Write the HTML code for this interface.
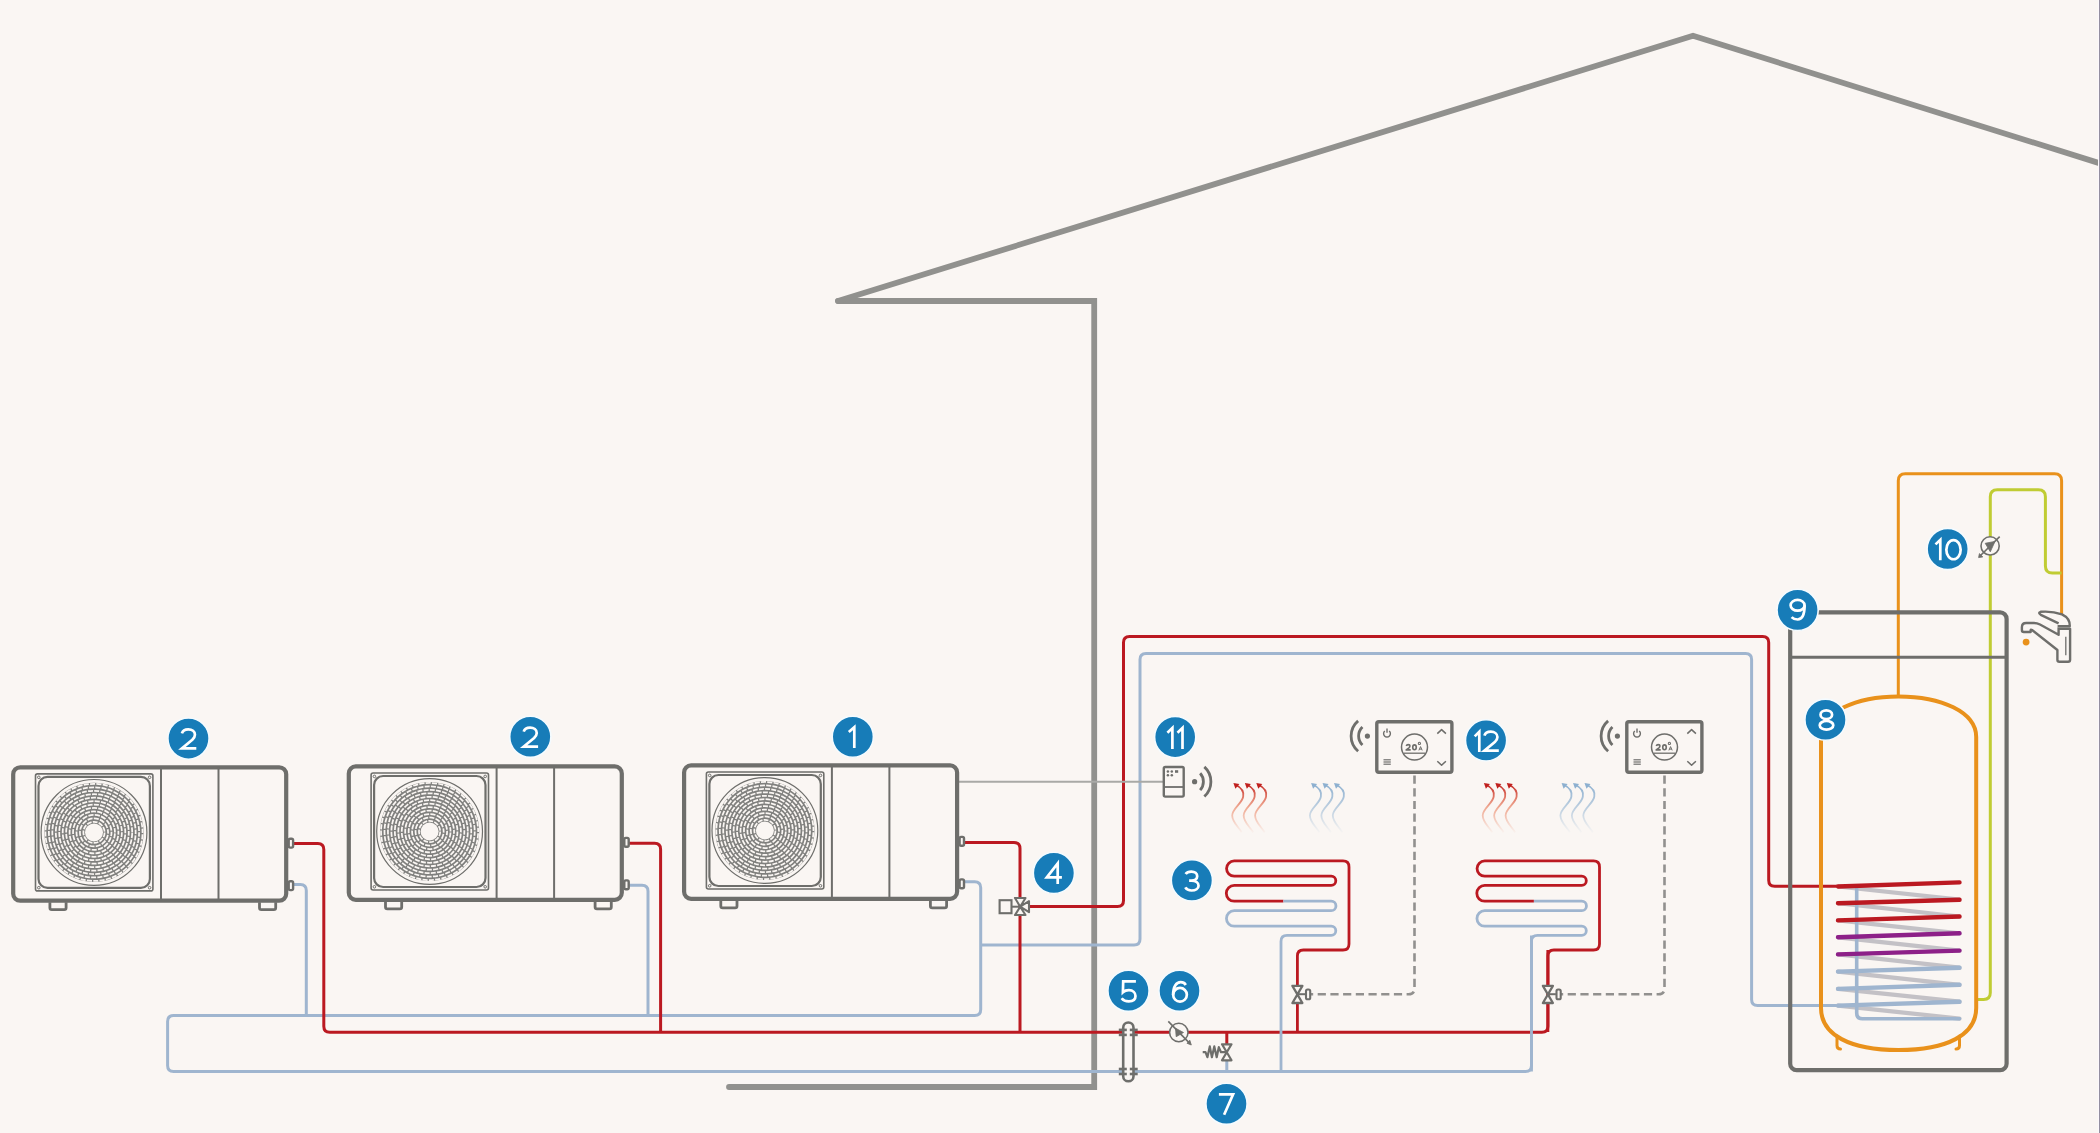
<!DOCTYPE html>
<html><head><meta charset="utf-8"><style>
html,body{margin:0;padding:0;background:#faf6f3;}
svg{display:block;font-family:"Liberation Sans",sans-serif;}
</style></head><body>
<svg width="2100" height="1133" viewBox="0 0 2100 1133">
<rect x="0" y="0" width="2100" height="1133" fill="#faf6f3"/>
<path d="M838 301 H1094.2 V1087 H729" fill="none" stroke="#91918e" stroke-width="5.8" stroke-linecap="round" stroke-linejoin="miter"/><path d="M838 301 L1693 35.8 L2110 166.5" fill="none" stroke="#91918e" stroke-width="5.8" stroke-linecap="round" stroke-linejoin="miter" stroke-miterlimit="10"/><defs><g id="hp"><rect x="0" y="0" width="273" height="133.4" rx="7" fill="none" stroke="#6e6e6b" stroke-width="4.2"/><line x1="147.8" y1="0" x2="147.8" y2="133" stroke="#6e6e6b" stroke-width="2"/><line x1="205.3" y1="0" x2="205.3" y2="133" stroke="#6e6e6b" stroke-width="2"/><rect x="22.3" y="6.6" width="117.4" height="117" rx="2" fill="none" stroke="#6e6e6b" stroke-width="1.6"/><rect x="25.3" y="9.6" width="111.4" height="111" rx="9" fill="none" stroke="#6e6e6b" stroke-width="2.2"/><circle cx="25.6" cy="10" r="1.3" fill="none" stroke="#6e6e6b" stroke-width="1"/><circle cx="136.4" cy="10" r="1.3" fill="none" stroke="#6e6e6b" stroke-width="1"/><circle cx="25.6" cy="120.4" r="1.3" fill="none" stroke="#6e6e6b" stroke-width="1"/><circle cx="136.4" cy="120.4" r="1.3" fill="none" stroke="#6e6e6b" stroke-width="1"/><circle cx="80.8" cy="65.1" r="52.9" fill="none" stroke="#6e6e6b" stroke-width="1.2"/><circle cx="80.8" cy="65.1" r="49.6" fill="#80807e"/><circle cx="80.8" cy="65.1" r="10.60" fill="none" stroke="#faf6f3" stroke-width="1.75" stroke-dasharray="4.80 1.25" stroke-dashoffset="0.00"/><circle cx="80.8" cy="65.1" r="14.05" fill="none" stroke="#faf6f3" stroke-width="1.75" stroke-dasharray="5.06 1.25" stroke-dashoffset="3.85"/><circle cx="80.8" cy="65.1" r="17.50" fill="none" stroke="#faf6f3" stroke-width="1.75" stroke-dasharray="5.22 1.25" stroke-dashoffset="1.40"/><circle cx="80.8" cy="65.1" r="20.95" fill="none" stroke="#faf6f3" stroke-width="1.75" stroke-dasharray="5.02 1.25" stroke-dashoffset="5.23"/><circle cx="80.8" cy="65.1" r="24.40" fill="none" stroke="#faf6f3" stroke-width="1.75" stroke-dasharray="5.14 1.25" stroke-dashoffset="2.80"/><circle cx="80.8" cy="65.1" r="27.85" fill="none" stroke="#faf6f3" stroke-width="1.75" stroke-dasharray="5.00 1.25" stroke-dashoffset="6.62"/><circle cx="80.8" cy="65.1" r="31.30" fill="none" stroke="#faf6f3" stroke-width="1.75" stroke-dasharray="5.09 1.25" stroke-dashoffset="4.20"/><circle cx="80.8" cy="65.1" r="34.75" fill="none" stroke="#faf6f3" stroke-width="1.75" stroke-dasharray="4.99 1.25" stroke-dashoffset="8.02"/><circle cx="80.8" cy="65.1" r="38.20" fill="none" stroke="#faf6f3" stroke-width="1.75" stroke-dasharray="5.07 1.25" stroke-dashoffset="5.60"/><circle cx="80.8" cy="65.1" r="41.65" fill="none" stroke="#faf6f3" stroke-width="1.75" stroke-dasharray="4.98 1.25" stroke-dashoffset="9.42"/><circle cx="80.8" cy="65.1" r="45.10" fill="none" stroke="#faf6f3" stroke-width="1.75" stroke-dasharray="5.05 1.25" stroke-dashoffset="7.00"/><circle cx="80.8" cy="65.1" r="48.55" fill="none" stroke="#faf6f3" stroke-width="1.75" stroke-dasharray="5.11 1.25" stroke-dashoffset="10.88"/><circle cx="80.8" cy="65.1" r="9" fill="#faf6f3" stroke="none"/><path d="M36.699999999999996 135 V140.5 Q36.699999999999996 142.4 38.6 142.4 H51.0 Q52.9 142.4 52.9 140.5 V135" fill="none" stroke="#6e6e6b" stroke-width="2.8"/><path d="M246.3 135 V140.5 Q246.3 142.4 248.2 142.4 H260.6 Q262.5 142.4 262.5 140.5 V135" fill="none" stroke="#6e6e6b" stroke-width="2.8"/><rect x="275.5" y="71.5" width="4.4" height="8.8" rx="1.5" fill="#faf6f3" stroke="#6e6e6b" stroke-width="2.4"/><rect x="275.5" y="114" width="4.4" height="8.8" rx="1.5" fill="#faf6f3" stroke="#6e6e6b" stroke-width="2.4"/></g></defs><path d="M1531.5 935.4 L1531.50 1065.40 Q1531.5 1071.4 1525.50 1071.40 L173.60 1071.40 Q167.6 1071.4 167.60 1065.40 L167.60 1021.50 Q167.6 1015.5 173.60 1015.50 L974.70 1015.50 Q980.7 1015.5 980.70 1009.50 L980.70 887.80 Q980.7 881.8 974.70 881.80 L964 881.8" fill="none" stroke="#9fb5cf" stroke-width="3" stroke-linejoin="round" /><path d="M293 884.5 L300.30 884.50 Q306.3 884.5 306.30 890.50 L306.3 1015.5" fill="none" stroke="#9fb5cf" stroke-width="3" stroke-linejoin="round" /><path d="M629 885.3 L642.00 885.30 Q648 885.3 648.00 891.30 L648 1015.5" fill="none" stroke="#9fb5cf" stroke-width="3" stroke-linejoin="round" /><path d="M980.7 945 L1134.00 945.00 Q1140 945 1140.00 939.00 L1140.00 659.50 Q1140 653.5 1146.00 653.50 L1745.60 653.50 Q1751.6 653.5 1751.60 659.50 L1751.60 999.60 Q1751.6 1005.6 1757.60 1005.60 L1837 1005.6" fill="none" stroke="#9fb5cf" stroke-width="3" stroke-linejoin="round" /><path d="M293 843.5 L317.80 843.50 Q323.8 843.5 323.80 849.50 L323.80 1026.30 Q323.8 1032.3 329.80 1032.30 L1541.90 1032.30 Q1547.9 1032.3 1547.90 1026.30 L1547.9 950" fill="none" stroke="#bb1921" stroke-width="3" stroke-linejoin="round" /><path d="M629 843.2 L654.60 843.20 Q660.6 843.2 660.60 849.20 L660.6 1032.3" fill="none" stroke="#bb1921" stroke-width="3" stroke-linejoin="round" /><path d="M964 842.5 L1014.00 842.50 Q1020 842.5 1020.00 848.50 L1020 1032.3" fill="none" stroke="#bb1921" stroke-width="3" stroke-linejoin="round" /><path d="M1020 906.6 L1117.50 906.60 Q1123.5 906.6 1123.50 900.60 L1123.50 642.50 Q1123.5 636.5 1129.50 636.50 L1762.70 636.50 Q1768.7 636.5 1768.70 642.50 L1768.70 880.20 Q1768.7 886.2 1774.70 886.20 L1837 886.2" fill="none" stroke="#bb1921" stroke-width="3" stroke-linejoin="round" /><path d="M1226.8 1032.3 V1044" fill="none" stroke="#bb1921" stroke-width="3" stroke-linejoin="round" /><path d="M1226.8 1060 V1071.4" fill="none" stroke="#9fb5cf" stroke-width="3" stroke-linejoin="round" /><path d="M1297.4 1032 L1297.40 956.00 Q1297.4 950 1303.40 950.00 L1343.00 950.00 Q1349 950 1349.00 944.00 L1349.00 866.90 Q1349 860.9 1343.00 860.90 L1234.2 860.9 A7.65 7.65 0 0 0 1234.2 876.2 H1331.2 A4.6 4.6 0 0 1 1331.2 885.4 H1234.2 A7.9 7.9 0 0 0 1234.2 901.2 H1283.4" fill="none" stroke="#bb1921" stroke-width="2.8" stroke-linejoin="round" /><path d="M1283.4 901.2 H1331.2 A4.75 4.75 0 0 1 1331.2 910.7 H1234.2 A7.75 7.75 0 0 0 1234.2 926.2 H1331.2 A4.6 4.6 0 0 1 1331.2 935.4 H1287 Q1281 935.4 1281 941.4 V1071.4" fill="none" stroke="#9fb5cf" stroke-width="2.8" stroke-linejoin="round" /><path d="M1547.9 1032 L1547.90 956.00 Q1547.9 950 1553.90 950.00 L1593.50 950.00 Q1599.5 950 1599.50 944.00 L1599.50 866.90 Q1599.5 860.9 1593.50 860.90 L1484.7 860.9 A7.65 7.65 0 0 0 1484.7 876.2 H1581.7 A4.6 4.6 0 0 1 1581.7 885.4 H1484.7 A7.9 7.9 0 0 0 1484.7 901.2 H1533.9" fill="none" stroke="#bb1921" stroke-width="2.8" stroke-linejoin="round" /><path d="M1533.9 901.2 H1581.7 A4.75 4.75 0 0 1 1581.7 910.7 H1484.7 A7.75 7.75 0 0 0 1484.7 926.2 H1581.7 A4.6 4.6 0 0 1 1581.7 935.4 H1537.5 Q1531.5 935.4 1531.5 941.4 V1071.4" fill="none" stroke="#9fb5cf" stroke-width="2.8" stroke-linejoin="round" /><line x1="959" y1="781.8" x2="1164" y2="781.8" stroke="#a9a9a6" stroke-width="2"/><path d="M1414.5 775.5 L1414.50 988.20 Q1414.5 994.2 1408.50 994.20 L1310 994.2" fill="none" stroke="#91908e" stroke-width="2.6" stroke-linejoin="round" stroke-dasharray="8.2 4.5"/><path d="M1664.5 775.5 L1664.50 988.20 Q1664.5 994.2 1658.50 994.20 L1560 994.2" fill="none" stroke="#91908e" stroke-width="2.6" stroke-linejoin="round" stroke-dasharray="8.2 4.5"/><path d="M1898.3 697 L1898.30 480.80 Q1898.3 473.8 1905.30 473.80 L2054.60 473.80 Q2061.6 473.8 2061.60 480.80 L2061.6 615" fill="none" stroke="#e9911b" stroke-width="3" stroke-linejoin="round" /><path d="M1977 999.5 L1983.65 999.50 Q1990.3 999.5 1990.30 992.85 L1990.30 496.80 Q1990.3 489.8 1997.30 489.80 L2038.40 489.80 Q2045.4 489.8 2045.40 496.80 L2045.40 566.00 Q2045.4 573 2052.40 573.00 L2061.6 573" fill="none" stroke="#c0cc33" stroke-width="3" stroke-linejoin="round" /><rect x="1790.2" y="612.4" width="216.4" height="457.8" rx="6.5" fill="none" stroke="#6e6e6b" stroke-width="4.2"/><line x1="1790" y1="657.2" x2="2006.6" y2="657.2" stroke="#6e6e6b" stroke-width="3"/><line x1="1838" y1="886.5" x2="1959.5" y2="899.7" stroke="#c3c1c6" stroke-width="4.2" stroke-linecap="round"/><line x1="1838" y1="903.2" x2="1959.5" y2="916.5" stroke="#c3c1c6" stroke-width="4.2" stroke-linecap="round"/><line x1="1838" y1="920.4" x2="1959.5" y2="933.3" stroke="#c3c1c6" stroke-width="4.2" stroke-linecap="round"/><line x1="1838" y1="937.3" x2="1959.5" y2="950.6" stroke="#c3c1c6" stroke-width="4.2" stroke-linecap="round"/><line x1="1838" y1="954.4" x2="1959.5" y2="967.7" stroke="#c3c1c6" stroke-width="4.2" stroke-linecap="round"/><line x1="1838" y1="971.6" x2="1959.5" y2="984.8" stroke="#c3c1c6" stroke-width="4.2" stroke-linecap="round"/><line x1="1838" y1="988.9" x2="1959.5" y2="1001.7" stroke="#c3c1c6" stroke-width="4.2" stroke-linecap="round"/><line x1="1838" y1="1005.6" x2="1959.5" y2="1018.6" stroke="#c3c1c6" stroke-width="4.2" stroke-linecap="round"/><path d="M1856.7 889 V1013 Q1856.7 1018.8 1862.5 1018.8 H1959.5" fill="none" stroke="#9fb5cf" stroke-width="3.6" stroke-linejoin="round" stroke-linecap="round"/><line x1="1838" y1="886.5" x2="1959.5" y2="882.4" stroke="#bb1921" stroke-width="4.4" stroke-linecap="round"/><line x1="1838" y1="903.2" x2="1959.5" y2="899.7" stroke="#bb1921" stroke-width="4.4" stroke-linecap="round"/><line x1="1838" y1="920.4" x2="1959.5" y2="916.5" stroke="#bb1921" stroke-width="4.4" stroke-linecap="round"/><line x1="1838" y1="937.3" x2="1959.5" y2="933.3" stroke="#8d2088" stroke-width="4.4" stroke-linecap="round"/><line x1="1838" y1="954.4" x2="1959.5" y2="950.6" stroke="#8d2088" stroke-width="4.4" stroke-linecap="round"/><line x1="1838" y1="971.6" x2="1959.5" y2="967.7" stroke="#9fb5cf" stroke-width="4.4" stroke-linecap="round"/><line x1="1838" y1="988.9" x2="1959.5" y2="984.8" stroke="#9fb5cf" stroke-width="4.4" stroke-linecap="round"/><line x1="1838" y1="1005.6" x2="1959.5" y2="1001.7" stroke="#9fb5cf" stroke-width="4.4" stroke-linecap="round"/><path d="M1821 1008 V737 C1821 712 1856 696.4 1898.5 696.4 C1941 696.4 1976.2 712 1976.2 737 V1008 C1976.2 1035 1947 1050 1898.5 1050 C1850 1050 1821 1035 1821 1008 Z" fill="none" stroke="#e9911b" stroke-width="4" stroke-linejoin="round" /><path d="M1837 1036 V1045.5 Q1837 1049 1840.5 1049" fill="none" stroke="#e9911b" stroke-width="3" stroke-linejoin="round" stroke-linecap="round"/><path d="M1959.5 1036 V1045.5 Q1959.5 1049 1956 1049" fill="none" stroke="#e9911b" stroke-width="3" stroke-linejoin="round" stroke-linecap="round"/><path d="M2057.4 628.8 H2070.1 V659.7 Q2070.1 661.7 2068.1 661.7 H2059.4 Q2057.4 661.7 2057.4 659.7 V650 L2032 630 Q2030.6 629 2030.6 630.5 V632 H2023.8 Q2021.9 632 2021.9 630 V627.2 Q2021.9 623 2026.2 623 H2034 Q2037 623 2040 624.5 L2058.6 634.8 V628.8" fill="none" stroke="#6e6e6b" stroke-width="2.4" stroke-linejoin="round" /><path d="M2058.6 623.4 L2040.8 614.8 Q2037.6 612.6 2040.6 611.8 Q2052 610.8 2062 614.4 Q2070.2 618.4 2069.8 626.2 H2057.6" fill="none" stroke="#6e6e6b" stroke-width="2.4" stroke-linejoin="round" /><line x1="2065.8" y1="636.8" x2="2065.8" y2="655.3" stroke="#6e6e6b" stroke-width="1.3"/><circle cx="2026.1" cy="642.1" r="3.4" fill="#e9911b"/><circle cx="1990.1" cy="545.9" r="9.1" fill="#faf6f3" stroke="#6e6e6b" stroke-width="1.6"/><line x1="1980" y1="556" x2="1999.7" y2="536.6" stroke="#6e6e6b" stroke-width="1.6"/><path d="M1995 541.4 L1985.2 543.3 L1990.3 551.8 Z" fill="#6e6e6b" stroke="#6e6e6b" stroke-width="0.8" stroke-linejoin="round"/><path d="M1978.6 557.6 L1979.4 553.6 L1982.8 556.9 Z" fill="#6e6e6b" stroke="#6e6e6b" stroke-width="0.8"/><circle cx="1178.8" cy="1032.5" r="9.2" fill="#faf6f3" stroke="#6e6e6b" stroke-width="1.6"/><line x1="1168.3" y1="1021.4" x2="1190" y2="1043.6" stroke="#6e6e6b" stroke-width="1.6"/><path d="M1175.5 1028.2 L1183.5 1032.5 L1176.2 1036.7 Z" fill="#6e6e6b" stroke="#6e6e6b" stroke-width="0.8" stroke-linejoin="round"/><path d="M1191.3 1045 L1187 1043.3 L1189.8 1040.2 Z" fill="#6e6e6b" stroke="#6e6e6b" stroke-width="0.8"/><rect x="1123.2" y="1022.5" width="10.3" height="58.8" rx="5.15" fill="#faf6f3" stroke="#6e6e6b" stroke-width="2.6"/><line x1="1118.8" y1="1029.9" x2="1126.8" y2="1029.9" stroke="#6e6e6b" stroke-width="2.6"/><line x1="1129.8" y1="1029.9" x2="1137.7" y2="1029.9" stroke="#6e6e6b" stroke-width="2.6"/><line x1="1118.8" y1="1034.9" x2="1126.8" y2="1034.9" stroke="#6e6e6b" stroke-width="2.6"/><line x1="1129.8" y1="1034.9" x2="1137.7" y2="1034.9" stroke="#6e6e6b" stroke-width="2.6"/><line x1="1118.8" y1="1069.0" x2="1126.8" y2="1069.0" stroke="#6e6e6b" stroke-width="2.6"/><line x1="1129.8" y1="1069.0" x2="1137.7" y2="1069.0" stroke="#6e6e6b" stroke-width="2.6"/><line x1="1118.8" y1="1074.0" x2="1126.8" y2="1074.0" stroke="#6e6e6b" stroke-width="2.6"/><line x1="1129.8" y1="1074.0" x2="1137.7" y2="1074.0" stroke="#6e6e6b" stroke-width="2.6"/><path d="M1222 1044.3 H1231.5 L1222 1060.3 H1231.5 Z" fill="#faf6f3" stroke="#6e6e6b" stroke-width="2.2" stroke-linejoin="round"/><path d="M1202.7 1052.2 H1205.5 L1207.4 1057.2 L1209.8 1046.4 L1211.9 1057.2 L1214.3 1046.4 L1216.7 1057.2 L1218.8 1047.2 L1221 1052.2 H1227" fill="none" stroke="#6e6e6b" stroke-width="2.2" stroke-linejoin="round" /><rect x="999.6" y="900.2" width="11.9" height="13" fill="#faf6f3" stroke="#6e6e6b" stroke-width="2.1"/><line x1="1011.5" y1="906.7" x2="1020" y2="906.7" stroke="#6e6e6b" stroke-width="2"/><path d="M1015 898 H1025.5 L1020.2 906.7 Z M1015 915 H1025.5 L1020.2 906.7 Z M1029 901.2 V912.2 L1020.2 906.7 Z" fill="#faf6f3" stroke="#6e6e6b" stroke-width="2.1" stroke-linejoin="round"/><path d="M1292.4 985.8 H1302.4 L1292.4 1003 H1302.4 Z" fill="#faf6f3" stroke="#6e6e6b" stroke-width="2.3" stroke-linejoin="round"/><line x1="1297.4" y1="994.2" x2="1305.4" y2="994.2" stroke="#6e6e6b" stroke-width="2"/><rect x="1306.0" y="989.5" width="4.2" height="9.8" rx="1.6" fill="#faf6f3" stroke="#6e6e6b" stroke-width="2.1"/><path d="M1542.9 985.8 H1552.9 L1542.9 1003 H1552.9 Z" fill="#faf6f3" stroke="#6e6e6b" stroke-width="2.3" stroke-linejoin="round"/><line x1="1547.9" y1="994.2" x2="1555.9" y2="994.2" stroke="#6e6e6b" stroke-width="2"/><rect x="1556.5" y="989.5" width="4.2" height="9.8" rx="1.6" fill="#faf6f3" stroke="#6e6e6b" stroke-width="2.1"/><rect x="1163.8" y="767" width="19.9" height="29.6" rx="1.5" fill="#faf6f3" stroke="#6e6e6b" stroke-width="2.4"/><line x1="1164" y1="787" x2="1183.5" y2="787" stroke="#6e6e6b" stroke-width="1.8"/><circle cx="1167.9" cy="771.5" r="1.25" fill="#6e6e6b"/><circle cx="1171.8" cy="771.5" r="1.25" fill="#6e6e6b"/><circle cx="1167.9" cy="775.3" r="1.25" fill="#6e6e6b"/><circle cx="1171.8" cy="775.3" r="1.25" fill="#6e6e6b"/><rect x="1175" y="770.2" width="3.2" height="2.6" fill="#6e6e6b"/><circle cx="1194.6" cy="781.7" r="2.6" fill="#6e6e6b"/><path d="M1200.16 773.30 A12.5 12.5 0 0 1 1200.16 790.10" fill="none" stroke="#6e6e6b" stroke-width="2.8"/><path d="M1204.35 766.90 A20.0 20.0 0 0 1 1204.35 796.50" fill="none" stroke="#6e6e6b" stroke-width="2.8"/><rect x="1376.8" y="721.8" width="75.1" height="50.4" rx="2" fill="#faf6f3" stroke="#6e6e6b" stroke-width="3.4"/><path d="M1384.8 731.0 A3.4 3.4 0 1 0 1389.2 731.0" fill="none" stroke="#6e6e6b" stroke-width="1.4"/><line x1="1387" y1="728.4" x2="1387" y2="732.8000000000001" stroke="#6e6e6b" stroke-width="1.4"/><line x1="1383.5" y1="759.8" x2="1390.8" y2="759.8" stroke="#6e6e6b" stroke-width="1.2"/><line x1="1383.5" y1="762.0" x2="1390.8" y2="762.0" stroke="#6e6e6b" stroke-width="1.2"/><line x1="1383.5" y1="764.1999999999999" x2="1390.8" y2="764.1999999999999" stroke="#6e6e6b" stroke-width="1.2"/><path d="M1437.3 733.6 L1441.6 729.6 L1445.9 733.6" fill="none" stroke="#6e6e6b" stroke-width="1.5" stroke-linejoin="round" /><path d="M1437.3 761.2 L1441.6 765.2 L1445.9 761.2" fill="none" stroke="#6e6e6b" stroke-width="1.5" stroke-linejoin="round" /><circle cx="1414.5" cy="747.1" r="13" fill="none" stroke="#6e6e6b" stroke-width="1.5"/><line x1="1403.6" y1="753.2" x2="1425.2" y2="753.2" stroke="#6e6e6b" stroke-width="1.3"/><path d="M1406.3 745.9 C1406.6 744.9 1407.3 744.6 1408.1 744.6 C1409.3 744.6 1409.9 745.3 1409.9 746.1 C1409.9 746.8 1409.5 747.3 1409 747.8 L1406.2 749.9 H1410.7" fill="none" stroke="#6e6e6b" stroke-width="1.6" stroke-linejoin="round"/><ellipse cx="1414.5" cy="747.35" rx="1.75" ry="2.45" fill="none" stroke="#6e6e6b" stroke-width="1.6"/><circle cx="1419.4" cy="743.4" r="1.1" fill="none" stroke="#6e6e6b" stroke-width="1.1"/><path d="M1418.9 750.4 L1420.55 746.6 L1422.2 750.4 M1419.5 749.1 H1421.6" fill="none" stroke="#6e6e6b" stroke-width="1.0"/><circle cx="1367.4" cy="736.1" r="2.6" fill="#6e6e6b"/><path d="M1362.43 727.10 A12.5 12.5 0 0 0 1362.43 745.10" fill="none" stroke="#6e6e6b" stroke-width="2.8"/><path d="M1358.10 720.90 A20.0 20.0 0 0 0 1358.10 751.30" fill="none" stroke="#6e6e6b" stroke-width="2.8"/><rect x="1626.8" y="721.8" width="75.1" height="50.4" rx="2" fill="#faf6f3" stroke="#6e6e6b" stroke-width="3.4"/><path d="M1634.8 731.0 A3.4 3.4 0 1 0 1639.2 731.0" fill="none" stroke="#6e6e6b" stroke-width="1.4"/><line x1="1637" y1="728.4" x2="1637" y2="732.8000000000001" stroke="#6e6e6b" stroke-width="1.4"/><line x1="1633.5" y1="759.8" x2="1640.8" y2="759.8" stroke="#6e6e6b" stroke-width="1.2"/><line x1="1633.5" y1="762.0" x2="1640.8" y2="762.0" stroke="#6e6e6b" stroke-width="1.2"/><line x1="1633.5" y1="764.1999999999999" x2="1640.8" y2="764.1999999999999" stroke="#6e6e6b" stroke-width="1.2"/><path d="M1687.3 733.6 L1691.6 729.6 L1695.9 733.6" fill="none" stroke="#6e6e6b" stroke-width="1.5" stroke-linejoin="round" /><path d="M1687.3 761.2 L1691.6 765.2 L1695.9 761.2" fill="none" stroke="#6e6e6b" stroke-width="1.5" stroke-linejoin="round" /><circle cx="1664.5" cy="747.1" r="13" fill="none" stroke="#6e6e6b" stroke-width="1.5"/><line x1="1653.6" y1="753.2" x2="1675.2" y2="753.2" stroke="#6e6e6b" stroke-width="1.3"/><path d="M1656.3 745.9 C1656.6 744.9 1657.3 744.6 1658.1 744.6 C1659.3 744.6 1659.9 745.3 1659.9 746.1 C1659.9 746.8 1659.5 747.3 1659 747.8 L1656.2 749.9 H1660.7" fill="none" stroke="#6e6e6b" stroke-width="1.6" stroke-linejoin="round"/><ellipse cx="1664.5" cy="747.35" rx="1.75" ry="2.45" fill="none" stroke="#6e6e6b" stroke-width="1.6"/><circle cx="1669.4" cy="743.4" r="1.1" fill="none" stroke="#6e6e6b" stroke-width="1.1"/><path d="M1668.9 750.4 L1670.55 746.6 L1672.2 750.4 M1669.5 749.1 H1671.6" fill="none" stroke="#6e6e6b" stroke-width="1.0"/><circle cx="1617.4" cy="736.1" r="2.6" fill="#6e6e6b"/><path d="M1612.43 727.10 A12.5 12.5 0 0 0 1612.43 745.10" fill="none" stroke="#6e6e6b" stroke-width="2.8"/><path d="M1608.10 720.90 A20.0 20.0 0 0 0 1608.10 751.30" fill="none" stroke="#6e6e6b" stroke-width="2.8"/><linearGradient id="wr1" gradientUnits="userSpaceOnUse" x1="0" y1="783" x2="0" y2="834"><stop offset="0" stop-color="#c0201e" stop-opacity="1"/><stop offset="0.5" stop-color="#e8704a" stop-opacity="0.55"/><stop offset="1" stop-color="#e8704a" stop-opacity="0"/></linearGradient><path d="M1235.2 784.5 C1241.2 787.5 1244.2 791.5 1243.2 796.5 C1242.2 803.5 1232.2 808.5 1232.2 815.5 C1232.2 822.5 1239.2 827.5 1241.7 832.5" fill="none" stroke="url(#wr1)" stroke-width="1.8"/><path d="M1233.4 782.9 L1239.4 783.9 L1235.4 788.7 Z" fill="#c0201e"/><path d="M1246.65 784.5 C1252.65 787.5 1255.65 791.5 1254.65 796.5 C1253.65 803.5 1243.65 808.5 1243.65 815.5 C1243.65 822.5 1250.65 827.5 1253.15 832.5" fill="none" stroke="url(#wr1)" stroke-width="1.8"/><path d="M1244.8500000000001 782.9 L1250.8500000000001 783.9 L1246.8500000000001 788.7 Z" fill="#c0201e"/><path d="M1258.1000000000001 784.5 C1264.1000000000001 787.5 1267.1000000000001 791.5 1266.1000000000001 796.5 C1265.1000000000001 803.5 1255.1000000000001 808.5 1255.1000000000001 815.5 C1255.1000000000001 822.5 1262.1000000000001 827.5 1264.6000000000001 832.5" fill="none" stroke="url(#wr1)" stroke-width="1.8"/><path d="M1256.3000000000002 782.9 L1262.3000000000002 783.9 L1258.3000000000002 788.7 Z" fill="#c0201e"/><linearGradient id="wb1" gradientUnits="userSpaceOnUse" x1="0" y1="783" x2="0" y2="834"><stop offset="0" stop-color="#8db0d0" stop-opacity="1"/><stop offset="0.5" stop-color="#8db0d0" stop-opacity="0.55"/><stop offset="1" stop-color="#8db0d0" stop-opacity="0"/></linearGradient><path d="M1312.9 784.5 C1318.9 787.5 1321.9 791.5 1320.9 796.5 C1319.9 803.5 1309.9 808.5 1309.9 815.5 C1309.9 822.5 1316.9 827.5 1319.4 832.5" fill="none" stroke="url(#wb1)" stroke-width="1.8"/><path d="M1311.1000000000001 782.9 L1317.1000000000001 783.9 L1313.1000000000001 788.7 Z" fill="#8db0d0"/><path d="M1324.3500000000001 784.5 C1330.3500000000001 787.5 1333.3500000000001 791.5 1332.3500000000001 796.5 C1331.3500000000001 803.5 1321.3500000000001 808.5 1321.3500000000001 815.5 C1321.3500000000001 822.5 1328.3500000000001 827.5 1330.8500000000001 832.5" fill="none" stroke="url(#wb1)" stroke-width="1.8"/><path d="M1322.5500000000002 782.9 L1328.5500000000002 783.9 L1324.5500000000002 788.7 Z" fill="#8db0d0"/><path d="M1335.8000000000002 784.5 C1341.8000000000002 787.5 1344.8000000000002 791.5 1343.8000000000002 796.5 C1342.8000000000002 803.5 1332.8000000000002 808.5 1332.8000000000002 815.5 C1332.8000000000002 822.5 1339.8000000000002 827.5 1342.3000000000002 832.5" fill="none" stroke="url(#wb1)" stroke-width="1.8"/><path d="M1334.0000000000002 782.9 L1340.0000000000002 783.9 L1336.0000000000002 788.7 Z" fill="#8db0d0"/><linearGradient id="wr2" gradientUnits="userSpaceOnUse" x1="0" y1="783" x2="0" y2="834"><stop offset="0" stop-color="#c0201e" stop-opacity="1"/><stop offset="0.5" stop-color="#e8704a" stop-opacity="0.55"/><stop offset="1" stop-color="#e8704a" stop-opacity="0"/></linearGradient><path d="M1485.7 784.5 C1491.7 787.5 1494.7 791.5 1493.7 796.5 C1492.7 803.5 1482.7 808.5 1482.7 815.5 C1482.7 822.5 1489.7 827.5 1492.2 832.5" fill="none" stroke="url(#wr2)" stroke-width="1.8"/><path d="M1483.9 782.9 L1489.9 783.9 L1485.9 788.7 Z" fill="#c0201e"/><path d="M1497.15 784.5 C1503.15 787.5 1506.15 791.5 1505.15 796.5 C1504.15 803.5 1494.15 808.5 1494.15 815.5 C1494.15 822.5 1501.15 827.5 1503.65 832.5" fill="none" stroke="url(#wr2)" stroke-width="1.8"/><path d="M1495.3500000000001 782.9 L1501.3500000000001 783.9 L1497.3500000000001 788.7 Z" fill="#c0201e"/><path d="M1508.6000000000001 784.5 C1514.6000000000001 787.5 1517.6000000000001 791.5 1516.6000000000001 796.5 C1515.6000000000001 803.5 1505.6000000000001 808.5 1505.6000000000001 815.5 C1505.6000000000001 822.5 1512.6000000000001 827.5 1515.1000000000001 832.5" fill="none" stroke="url(#wr2)" stroke-width="1.8"/><path d="M1506.8000000000002 782.9 L1512.8000000000002 783.9 L1508.8000000000002 788.7 Z" fill="#c0201e"/><linearGradient id="wb2" gradientUnits="userSpaceOnUse" x1="0" y1="783" x2="0" y2="834"><stop offset="0" stop-color="#8db0d0" stop-opacity="1"/><stop offset="0.5" stop-color="#8db0d0" stop-opacity="0.55"/><stop offset="1" stop-color="#8db0d0" stop-opacity="0"/></linearGradient><path d="M1563.4 784.5 C1569.4 787.5 1572.4 791.5 1571.4 796.5 C1570.4 803.5 1560.4 808.5 1560.4 815.5 C1560.4 822.5 1567.4 827.5 1569.9 832.5" fill="none" stroke="url(#wb2)" stroke-width="1.8"/><path d="M1561.6000000000001 782.9 L1567.6000000000001 783.9 L1563.6000000000001 788.7 Z" fill="#8db0d0"/><path d="M1574.8500000000001 784.5 C1580.8500000000001 787.5 1583.8500000000001 791.5 1582.8500000000001 796.5 C1581.8500000000001 803.5 1571.8500000000001 808.5 1571.8500000000001 815.5 C1571.8500000000001 822.5 1578.8500000000001 827.5 1581.3500000000001 832.5" fill="none" stroke="url(#wb2)" stroke-width="1.8"/><path d="M1573.0500000000002 782.9 L1579.0500000000002 783.9 L1575.0500000000002 788.7 Z" fill="#8db0d0"/><path d="M1586.3000000000002 784.5 C1592.3000000000002 787.5 1595.3000000000002 791.5 1594.3000000000002 796.5 C1593.3000000000002 803.5 1583.3000000000002 808.5 1583.3000000000002 815.5 C1583.3000000000002 822.5 1590.3000000000002 827.5 1592.8000000000002 832.5" fill="none" stroke="url(#wb2)" stroke-width="1.8"/><path d="M1584.5000000000002 782.9 L1590.5000000000002 783.9 L1586.5000000000002 788.7 Z" fill="#8db0d0"/><use href="#hp" x="13.2" y="767.3"/><use href="#hp" x="348.8" y="766.4"/><use href="#hp" x="684.1" y="765.4"/><circle cx="852.8" cy="736.7" r="20.6" fill="#177cb8" stroke="#f4fbff" stroke-width="1.6"/><g transform="translate(852.8 736.7)" fill="none" stroke="#ffffff" stroke-width="2.7" stroke-miterlimit="6"><path d="M-4.0 -4.6 L1.5 -9.4 V11.2"/></g><circle cx="188.5" cy="738.6" r="20.6" fill="#177cb8" stroke="#f4fbff" stroke-width="1.6"/><g transform="translate(188.5 738.6)" fill="none" stroke="#ffffff" stroke-width="2.7" stroke-miterlimit="6"><path d="M-6.6 -5.2 C-5.8 -7.9 -3.4 -9.25 -0.2 -9.25 C3.6 -9.25 6.45 -6.9 6.45 -3.9 C6.45 -1.9 5.4 -0.4 3.8 1.2 L-6.6 9.75 H7.8"/></g><circle cx="530.3" cy="736.8" r="20.6" fill="#177cb8" stroke="#f4fbff" stroke-width="1.6"/><g transform="translate(530.3 736.8)" fill="none" stroke="#ffffff" stroke-width="2.7" stroke-miterlimit="6"><path d="M-6.6 -5.2 C-5.8 -7.9 -3.4 -9.25 -0.2 -9.25 C3.6 -9.25 6.45 -6.9 6.45 -3.9 C6.45 -1.9 5.4 -0.4 3.8 1.2 L-6.6 9.75 H7.8"/></g><circle cx="1191.9" cy="880.4" r="20.6" fill="#177cb8" stroke="#f4fbff" stroke-width="1.6"/><g transform="translate(1191.9 880.4)" fill="none" stroke="#ffffff" stroke-width="2.7" stroke-miterlimit="6"><path d="M-6.3 -6.4 C-5.3 -7.9 -3.2 -8.8 -0.6 -8.8 C3 -8.8 5.3 -6.9 5.3 -4.2 C5.3 -1.6 3 0.2 -0.4 0.2 H-2.8 M-0.4 0.2 C3.8 0.2 6.65 2.5 6.65 5.3 C6.65 8.2 3.8 10.1 -0.3 10.1 C-3.2 10.1 -5.5 8.9 -6.6 7.0"/></g><circle cx="1053.9" cy="872.9" r="20.6" fill="#177cb8" stroke="#f4fbff" stroke-width="1.6"/><g transform="translate(1053.9 872.9)" fill="none" stroke="#ffffff" stroke-width="2.7" stroke-miterlimit="6"><path d="M3.8 11 V-9.4 L-7.1 4.4 H8"/></g><circle cx="1128.5" cy="990.8" r="20.6" fill="#177cb8" stroke="#f4fbff" stroke-width="1.6"/><g transform="translate(1128.5 990.8)" fill="none" stroke="#ffffff" stroke-width="2.7" stroke-miterlimit="6"><path d="M7.4 -9.4 H-5.3 L-5.6 1.4 C-4.1 0 -2.2 -0.7 0.4 -0.7 C4.5 -0.7 7 2.0 7 5.3 C7 8.7 4.3 10.6 0.3 10.6 C-2.9 10.6 -5.4 9.4 -6.9 7.4"/></g><circle cx="1179.5" cy="990.8" r="20.6" fill="#177cb8" stroke="#f4fbff" stroke-width="1.6"/><g transform="translate(1179.5 990.8)" fill="none" stroke="#ffffff" stroke-width="2.7" stroke-miterlimit="6"><path d="M6.3 -5.9 C5.2 -7.6 3.4 -8.6 1.2 -8.6 C-3 -8.6 -6.35 -4.5 -6.35 4"/><circle cx="0.5" cy="4.0" r="6.85"/></g><circle cx="1226.5" cy="1103.8" r="20.6" fill="#177cb8" stroke="#f4fbff" stroke-width="1.6"/><g transform="translate(1226.5 1103.8)" fill="none" stroke="#ffffff" stroke-width="2.7" stroke-miterlimit="6"><path d="M-7.6 -9.4 H6.6 L-2.4 10.9"/></g><circle cx="1825.5" cy="719.7" r="20.6" fill="#177cb8" stroke="#f4fbff" stroke-width="1.6"/><g transform="translate(1825.5 719.7)" fill="none" stroke="#ffffff" stroke-width="2.7" stroke-miterlimit="6"><ellipse cx="0.8" cy="-5.0" rx="5.8" ry="4.3"/><ellipse cx="1.0" cy="5.6" rx="6.8" ry="4.3"/></g><circle cx="1797.6" cy="609.9" r="20.6" fill="#177cb8" stroke="#f4fbff" stroke-width="1.6"/><g transform="translate(1797.6 609.9)" fill="none" stroke="#ffffff" stroke-width="2.7" stroke-miterlimit="6"><path d="M7.0 -4.6 C7.0 4.2 4.4 9.6 0 9.6 C-2.5 9.6 -4.6 8.7 -6 7.2"/><ellipse cx="0.0" cy="-4.6" rx="7.0" ry="5.4"/></g><circle cx="1947.7" cy="549" r="20.6" fill="#177cb8" stroke="#f4fbff" stroke-width="1.6"/><g transform="translate(1947.7 549)" fill="none" stroke="#ffffff" stroke-width="2.7" stroke-miterlimit="6"><path d="M-12.2 -4.6 L-7.4 -9.2 V11.3"/><ellipse cx="5.8" cy="0.65" rx="7.15" ry="9.6"/></g><circle cx="1175.2" cy="737.1" r="20.6" fill="#177cb8" stroke="#f4fbff" stroke-width="1.6"/><g transform="translate(1175.2 737.1)" fill="none" stroke="#ffffff" stroke-width="2.7" stroke-miterlimit="6"><path d="M-7.8 -4.4 L-2.8 -9.2 V11.9 M2.3 -4.4 L7.3 -9.2 V11.9"/></g><circle cx="1486.1" cy="740.4" r="20.6" fill="#177cb8" stroke="#f4fbff" stroke-width="1.6"/><g transform="translate(1486.1 740.4)" fill="none" stroke="#ffffff" stroke-width="2.7" stroke-miterlimit="6"><path d="M-11.4 -4.0 L-6.8 -8.6 V11.6 M -1.70 -4.70 C -0.90 -7.40 1.50 -8.75 4.70 -8.75 C 8.50 -8.75 11.35 -6.40 11.35 -3.40 C 11.35 -1.40 10.30 0.10 8.70 1.70 L -1.70 10.25 H 12.70"/></g>
<rect x="2098" y="0" width="1" height="1133" fill="#fcf8fd"/>
<rect x="2099" y="0" width="1" height="1133" fill="#948fa0"/>
</svg></body></html>
